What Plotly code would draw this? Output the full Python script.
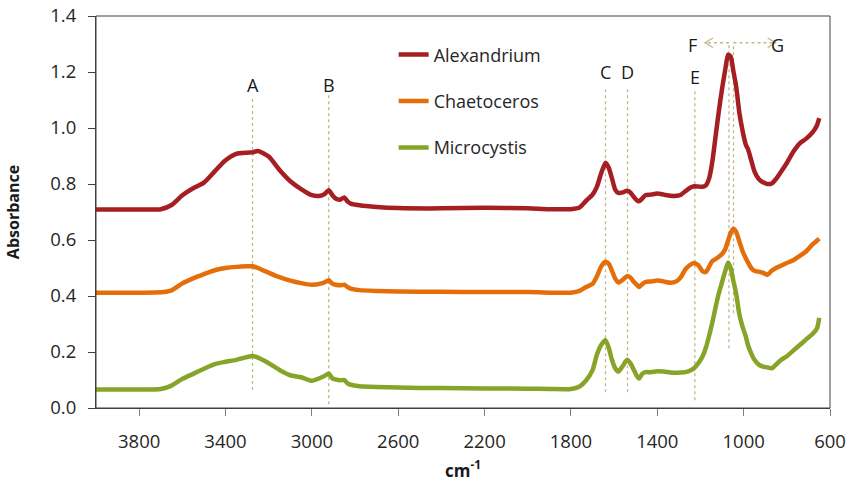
import plotly.graph_objects as go

# ---------------- data ----------------
wavenumber = [4000, 3900, 3800, 3700, 3650, 3600, 3550, 3500, 3450, 3400, 3350, 3300, 3275, 3250,
              3200, 3150, 3100, 3050, 3000, 2960, 2940, 2922, 2905, 2890, 2870, 2850, 2835, 2820,
              2780, 2700, 2600, 2400, 2200, 2000, 1900, 1800, 1760, 1730, 1700, 1680, 1660, 1640,
              1625, 1610, 1595, 1580, 1560, 1540, 1525, 1510, 1495, 1485, 1470, 1455, 1430, 1400,
              1370, 1340, 1310, 1290, 1270, 1250, 1230, 1210, 1190, 1175, 1160, 1145, 1130, 1115,
              1100, 1085, 1072, 1060, 1048, 1035, 1020, 1005, 990, 980, 965, 950, 930, 910, 890,
              870, 850, 830, 800, 770, 740, 710, 680, 660, 650]

alexandrium = [0.709, 0.709, 0.709, 0.710, 0.725, 0.760, 0.785, 0.805, 0.845, 0.885, 0.908, 0.912, 0.913, 0.918,
               0.898, 0.850, 0.810, 0.782, 0.760, 0.758, 0.765, 0.778, 0.760, 0.748, 0.744, 0.752, 0.738, 0.730,
               0.724, 0.718, 0.714, 0.713, 0.715, 0.713, 0.710, 0.710, 0.716, 0.740, 0.762, 0.790, 0.838, 0.876,
               0.858, 0.820, 0.780, 0.768, 0.770, 0.776, 0.770, 0.755, 0.742, 0.738, 0.748, 0.760, 0.762, 0.766,
               0.762, 0.758, 0.758, 0.762, 0.774, 0.786, 0.792, 0.791, 0.790, 0.795, 0.820, 0.880, 0.970, 1.060,
               1.140, 1.210, 1.262, 1.255, 1.205, 1.150, 1.055, 0.990, 0.940, 0.925, 0.885, 0.845, 0.818, 0.806, 0.800,
               0.802, 0.818, 0.840, 0.875, 0.915, 0.945, 0.962, 0.985, 1.010, 1.035]

chaetoceros = [0.412, 0.412, 0.412, 0.413, 0.420, 0.445, 0.463, 0.478, 0.492, 0.500, 0.504, 0.506, 0.506, 0.500,
               0.483, 0.467, 0.455, 0.446, 0.440, 0.444, 0.449, 0.456, 0.444, 0.440, 0.438, 0.440, 0.432, 0.426,
               0.421, 0.418, 0.416, 0.415, 0.414, 0.414, 0.412, 0.412, 0.418, 0.432, 0.443, 0.470, 0.505, 0.522,
               0.515, 0.490, 0.462, 0.448, 0.458, 0.471, 0.466, 0.452, 0.440, 0.432, 0.442, 0.450, 0.452, 0.455,
               0.452, 0.447, 0.453, 0.468, 0.495, 0.510, 0.518, 0.510, 0.488, 0.486, 0.505, 0.525, 0.532, 0.540,
               0.550, 0.568, 0.598, 0.625, 0.640, 0.630, 0.595, 0.560, 0.535, 0.520, 0.500, 0.490, 0.487, 0.483, 0.476,
               0.490, 0.500, 0.507, 0.518, 0.528, 0.543, 0.560, 0.585, 0.598, 0.605]

microcystis = [0.066, 0.066, 0.066, 0.068, 0.080, 0.104, 0.122, 0.140, 0.157, 0.165, 0.172, 0.182, 0.186, 0.180,
               0.160, 0.136, 0.117, 0.110, 0.097, 0.108, 0.115, 0.123, 0.106, 0.102, 0.099, 0.100, 0.088, 0.083,
               0.078, 0.075, 0.073, 0.071, 0.070, 0.069, 0.068, 0.068, 0.077, 0.098, 0.135, 0.190, 0.225, 0.242,
               0.215, 0.172, 0.142, 0.130, 0.150, 0.172, 0.160, 0.138, 0.115, 0.105, 0.122, 0.128, 0.128, 0.131,
               0.130, 0.127, 0.126, 0.127, 0.128, 0.133, 0.142, 0.160, 0.185, 0.215, 0.258, 0.305, 0.360, 0.410,
               0.450, 0.490, 0.520, 0.500, 0.455, 0.410, 0.335, 0.290, 0.255, 0.225, 0.195, 0.172, 0.155, 0.148, 0.145,
               0.142, 0.155, 0.170, 0.185, 0.205, 0.225, 0.245, 0.265, 0.285, 0.322]

series_names = ["Alexandrium", "Chaetoceros", "Microcystis"]
series_colors = ["#a51e22", "#e46f0a", "#88a428"]

# band markers: label, wavenumber, line bottom, line top, label y
band_labels = ["A", "B", "C", "D", "E"]
band_wn = [3275, 2922, 1640, 1538, 1226]
band_y0 = [0.064, 0.013, 0.056, 0.056, 0.028]
band_y1 = [1.114, 1.117, 1.146, 1.146, 1.135]
band_label_y = [1.153, 1.153, 1.199, 1.199, 1.182]

# F / G bracket
fg_labels = ["F", "G"]
fg_wn = [1068, 1047]
fg_y0 = [0.213, 0.338]
fg_top = 1.3045
fg_arrow_tip = [1179, 852]
fg_label_x = [1235, 842]
fg_label_y = 1.296

x_ticks = [3800, 3400, 3000, 2600, 2200, 1800, 1400, 1000, 600]
y_ticks = [0.0, 0.2, 0.4, 0.6, 0.8, 1.0, 1.2, 1.4]

FONT = "Open Sans"
GUIDE = "#c2b78a"
FRAME = "#404040"

fig = go.Figure()
for i, (name, vals, col) in enumerate(zip(series_names, [alexandrium, chaetoceros, microcystis], series_colors)):
    fig.add_trace(go.Scatter(x=wavenumber, y=vals, mode="lines", name=name,
                             legendgroup=f"g{i}",
                             line=dict(color=col, width=4.5, shape="spline", smoothing=0.6)))

shapes = [dict(type="rect", xref="paper", yref="paper", x0=0, x1=1, y0=0, y1=1,
               line=dict(color=FRAME, width=1), fillcolor="rgba(0,0,0,0)", layer="above")]
annotations = []
for lab, wn, y0, y1, ly in zip(band_labels, band_wn, band_y0, band_y1, band_label_y):
    shapes.append(dict(type="line", xref="x", yref="y", x0=wn, x1=wn, y0=y0, y1=y1,
                       line=dict(color=GUIDE, width=1.3, dash="dot"), layer="below"))
    annotations.append(dict(x=wn, y=ly, xref="x", yref="y", text=lab, showarrow=False,
                            font=dict(family=FONT, size=18, color="#1a1a1a")))

for lab, wn, y0, tip, lx in zip(fg_labels, fg_wn, fg_y0, fg_arrow_tip, fg_label_x):
    shapes.append(dict(type="line", xref="x", yref="y", x0=wn, x1=wn, y0=y0, y1=fg_top,
                       line=dict(color=GUIDE, width=1.3, dash="dot"), layer="below"))
    shapes.append(dict(type="line", xref="x", yref="y", x0=wn, x1=tip, y0=fg_top, y1=fg_top,
                       line=dict(color=GUIDE, width=1.3, dash="dot"), layer="below"))
    d = 37 if tip > wn else -37  # chevron opening direction (in wavenumber units)
    shapes.append(dict(type="path", xref="x", yref="y",
                       path=f"M{tip - d},{fg_top + 0.017} L{tip},{fg_top} L{tip - d},{fg_top - 0.017}",
                       line=dict(color=GUIDE, width=1.3)))
    annotations.append(dict(x=lx, y=fg_label_y, xref="x", yref="y", text=lab, showarrow=False,
                            font=dict(family=FONT, size=18, color="#1a1a1a")))

fig.update_layout(
    width=848, height=485,
    margin=dict(l=96, r=18, t=16, b=77, autoexpand=False),
    paper_bgcolor="white", plot_bgcolor="white",
    font=dict(family=FONT, size=18, color="#262626"),
    showlegend=True,
    legend=dict(x=0.4055, y=0.948, xanchor="left", yanchor="top",
                font=dict(family=FONT, size=18, color="#262626"),
                traceorder="grouped", tracegroupgap=20, bgcolor="rgba(0,0,0,0)"),
    shapes=shapes, annotations=annotations,
    xaxis=dict(range=[4000, 600], tickvals=x_ticks, ticktext=[str(v) for v in x_ticks],
               automargin=False, ticklabeloverflow="allow",
               showgrid=False, zeroline=False, showline=True, linecolor=FRAME, linewidth=1,
               ticks="outside", ticklen=7, tickcolor="#808080",
               ticklabelstandoff=10, tickfont=dict(size=18.5),
               title=dict(text="<b>cm<sup>-1</sup></b>", font=dict(family=FONT, size=17, color="#1a1a1a"),
                          standoff=12)),
    yaxis=dict(range=[0, 1.4], tickvals=y_ticks, ticktext=[f"{v:.1f}" for v in y_ticks],
               automargin=False, ticklabeloverflow="allow",
               showgrid=False, zeroline=False, showline=True, linecolor=FRAME, linewidth=1,
               ticks="outside", ticklen=7, tickcolor=FRAME,
               ticklabelstandoff=8, tickfont=dict(size=18.5),
               title=dict(text="<b>Absorbance</b>", font=dict(family=FONT, size=16, color="#1a1a1a"),
                          standoff=26)),
)

# remove the browser's default 8px page margin so the 848x485 figure fills the window exactly
fig.write_html("out.html", config={"displayModeBar": False},
               post_script="document.body.style.margin='0px';")
